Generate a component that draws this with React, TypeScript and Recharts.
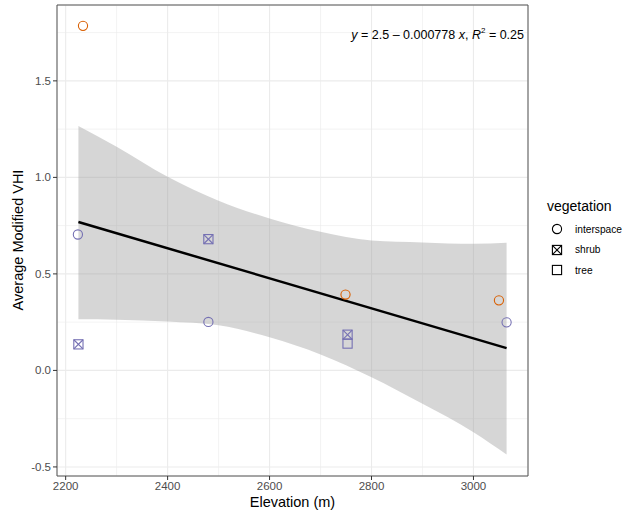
import {
  Area,
  CartesianGrid,
  ComposedChart,
  Line,
  ReferenceArea,
  Scatter,
  XAxis,
  YAxis,
} from "recharts";

// point observations, split by colour group and vegetation shape
const orangeInterspace = [
  { x: 2234, y: 1.785 },
  { x: 2749, y: 0.393 },
  { x: 3050, y: 0.363 },
];
const purpleInterspace = [
  { x: 2224, y: 0.704 },
  { x: 2480, y: 0.251 },
  { x: 3065, y: 0.249 },
];
const purpleShrub = [
  { x: 2225, y: 0.135 },
  { x: 2480, y: 0.68 },
  { x: 2753, y: 0.185 },
];
const purpleTree = [{ x: 2753, y: 0.139 }];

// confidence band around the fit
const bandX = [2225, 2300, 2400, 2500, 2600, 2700, 2800, 2900, 3000, 3065];
const bandLow = [0.265, 0.263, 0.254, 0.234, 0.172, 0.083, -0.035, -0.173, -0.32, -0.436];
const bandHigh = [1.266, 1.159, 1.003, 0.879, 0.787, 0.718, 0.673, 0.663, 0.656, 0.661];

// fit from the equation label
const INTERCEPT = 2.5;
const SLOPE = -0.000778;
const R2 = 0.25;
const fitRange = [2225, 3065];

const xTicks = [2200, 2400, 2600, 2800, 3000];
const xMinor = [2300, 2500, 2700, 2900];
const yTicks = [-0.5, 0, 0.5, 1, 1.5];
const yMinor = [-0.25, 0.25, 0.75, 1.25, 1.75];
const X_DOMAIN: [number, number] = [2183, 3107];
const Y_DOMAIN: [number, number] = [-0.547, 1.893];

const ORANGE = "#D95F02";
const PURPLE = "#7570B3";
const FONT = "'Liberation Sans', Arial, Helvetica, sans-serif";

const bandData = bandX.map((x, i) => ({ x, range: [bandLow[i], bandHigh[i]] }));
const fitData = fitRange.map((x) => ({ x, fit: INTERCEPT + SLOPE * x }));

function circleShape(color: string) {
  return (p: any) => (
    <circle cx={p.cx} cy={p.cy} r={4.6} fill="none" stroke={color} strokeWidth={1.1} />
  );
}

function squareShape(color: string, crossed: boolean) {
  return (p: any) => {
    const s = 4.6;
    return (
      <g stroke={color} strokeWidth={1.1} fill="none">
        <rect x={p.cx - s} y={p.cy - s} width={s * 2} height={s * 2} />
        {crossed && (
          <>
            <line x1={p.cx - s} y1={p.cy - s} x2={p.cx + s} y2={p.cy + s} />
            <line x1={p.cx - s} y1={p.cy + s} x2={p.cx + s} y2={p.cy - s} />
          </>
        )}
      </g>
    );
  };
}

const legendItems = [
  { label: "interspace", kind: "circle" },
  { label: "shrub", kind: "crossed" },
  { label: "tree", kind: "square" },
];

function LegendKey({ kind }: { kind: string }) {
  const s = 4.6;
  return (
    <svg width={14} height={14} style={{ display: "block" }}>
      <g stroke="#000" strokeWidth={1.1} fill="none">
        {kind === "circle" ? (
          <circle cx={7} cy={7} r={s} />
        ) : (
          <rect x={7 - s} y={7 - s} width={s * 2} height={s * 2} />
        )}
        {kind === "crossed" && (
          <>
            <line x1={7 - s} y1={7 - s} x2={7 + s} y2={7 + s} />
            <line x1={7 - s} y1={7 + s} x2={7 + s} y2={7 - s} />
          </>
        )}
      </g>
    </svg>
  );
}

const tickStyle = { fill: "#4D4D4D", fontSize: 11.5, fontFamily: FONT };

export default function App() {
  return (
    <div
      style={{
        position: "absolute",
        left: 0,
        top: 0,
        width: 624,
        height: 515,
        background: "#fff",
        fontFamily: FONT,
      }}
    >
      <ComposedChart
        width={624}
        height={515}
        data={bandData}
        margin={{ top: 5, right: 96, bottom: 9, left: 12 }}
      >
        <CartesianGrid
          stroke="#EBEBEB"
          strokeWidth={0.6}
          verticalValues={xMinor}
          horizontalValues={yMinor}
        />
        <CartesianGrid stroke="#EBEBEB" strokeWidth={1.1} />
        <XAxis
          dataKey="x"
          type="number"
          domain={X_DOMAIN}
          allowDataOverflow
          ticks={xTicks}
          height={30}
          axisLine={false}
          tickSize={4}
          tickLine={{ stroke: "#333" }}
          tick={tickStyle}
        />
        <YAxis
          type="number"
          domain={Y_DOMAIN}
          allowDataOverflow
          ticks={yTicks}
          width={45}
          axisLine={false}
          tickSize={4}
          tickLine={{ stroke: "#333" }}
          tick={tickStyle}
          tickFormatter={(v: number) => v.toFixed(1)}
        />
        <Area
          dataKey="range"
          type="monotone"
          fill="#999999"
          fillOpacity={0.4}
          stroke="none"
          isAnimationActive={false}
        />
        <Line
          data={fitData}
          dataKey="fit"
          stroke="#000"
          strokeWidth={2.5}
          dot={false}
          activeDot={false}
          isAnimationActive={false}
        />
        <Scatter data={orangeInterspace} dataKey="y" shape={circleShape(ORANGE)} isAnimationActive={false} />
        <Scatter data={purpleInterspace} dataKey="y" shape={circleShape(PURPLE)} isAnimationActive={false} />
        <Scatter data={purpleShrub} dataKey="y" shape={squareShape(PURPLE, true)} isAnimationActive={false} />
        <Scatter data={purpleTree} dataKey="y" shape={squareShape(PURPLE, false)} isAnimationActive={false} />
        <ReferenceArea
          x1={X_DOMAIN[0]}
          x2={X_DOMAIN[1]}
          y1={Y_DOMAIN[0]}
          y2={Y_DOMAIN[1]}
          fill="none"
          stroke="#555"
          strokeWidth={1}
          ifOverflow="visible"
        />
      </ComposedChart>

      {/* equation label */}
      <div
        style={{
          position: "absolute",
          right: 100,
          top: 28,
          fontSize: 12.5,
          color: "#000",
          whiteSpace: "nowrap",
        }}
      >
        <i>y</i> = 2.5 – {Math.abs(SLOPE).toFixed(6)} <i>x</i>, <i>R</i>
        <sup style={{ fontSize: 8, verticalAlign: "6px", lineHeight: 0 }}>2</sup> = {R2.toFixed(2)}
      </div>

      {/* axis titles */}
      <div
        style={{
          position: "absolute",
          left: 57,
          width: 471,
          top: 494,
          textAlign: "center",
          fontSize: 14.5,
          lineHeight: "17px",
        }}
      >
        Elevation (m)
      </div>
      <div
        style={{
          position: "absolute",
          left: 18,
          top: 240,
          fontSize: 14.5,
          whiteSpace: "nowrap",
          transform: "translate(-50%, -50%) rotate(-90deg)",
        }}
      >
        Average Modified VHI
      </div>

      {/* shape legend */}
      <div style={{ position: "absolute", left: 547, top: 198, width: 77 }}>
        <div style={{ fontSize: 14, marginBottom: 5, whiteSpace: "nowrap" }}>vegetation</div>
        {legendItems.map((it) => (
          <div
            key={it.label}
            style={{ display: "flex", alignItems: "center", height: 20.5 }}
          >
            <div style={{ marginLeft: 3, width: 25, flexShrink: 0 }}>
              <LegendKey kind={it.kind} />
            </div>
            <span style={{ fontSize: 10.2, whiteSpace: "nowrap" }}>{it.label}</span>
          </div>
        ))}
      </div>
    </div>
  );
}
